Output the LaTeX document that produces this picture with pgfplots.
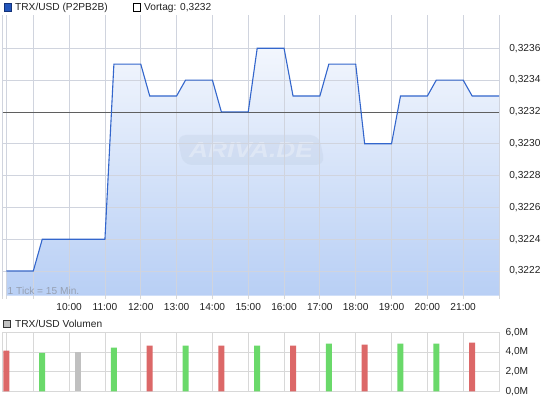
\documentclass[border=0pt]{standalone}
\usepackage{pgfplots}
\pgfplotsset{compat=1.18}
\usepackage{fontspec}
\setmainfont{Liberation Sans}
\definecolor{gridc}{RGB}{216,216,216}
\definecolor{linec}{RGB}{51,102,204}
\definecolor{filltop}{RGB}{242,246,253}
\definecolor{fillbot}{RGB}{184,207,245}
\definecolor{volred}{RGB}{220,104,104}
\definecolor{volgreen}{RGB}{106,217,106}
\definecolor{volgray}{RGB}{192,192,192}
\definecolor{txt}{RGB}{34,34,34}
\definecolor{vortag}{RGB}{95,95,95}
\newcommand{\fs}{\fontsize{10.2}{12}\selectfont}
\pgfplotsset{mainbox/.style={
  at={(2.7bp,105.3bp)}, anchor=south west, scale only axis,
  width=496.3bp, height=280.7bp,
  xmin=8.146, xmax=22, ymin=0.322045, ymax=0.323809}}
\begin{document}
\begin{tikzpicture}
\fill[white] (0bp,0bp) rectangle (545bp,401bp);
% area fill (behind grid)
\begin{axis}[mainbox, hide axis]
\addplot[draw=none, top color=filltop, bottom color=fillbot] coordinates {
(8.25,0.322045) (8.25,0.3222) (9,0.3222) (9.25,0.3224) (11,0.3224) (11.25,0.3235) (12,0.3235)
(12.25,0.3233) (13,0.3233) (13.25,0.3234) (14,0.3234) (14.25,0.3232) (15,0.3232)
(15.25,0.3236) (16,0.3236) (16.25,0.3233) (17,0.3233) (17.25,0.3235) (18,0.3235)
(18.25,0.3230) (19,0.3230) (19.25,0.3233) (20,0.3233) (20.25,0.3234) (21,0.3234)
(21.25,0.3233) (22,0.3233) (22,0.322045)};
\end{axis}
% watermark
\fill[rounded corners=9bp, fill={rgb,255:red,170;green,185;blue,210}, opacity=0.18]
  (183bp,236bp) -- (325bp,236bp) -- (319bp,266bp) -- (177bp,266bp) -- cycle;
\node[anchor=center, font=\fontsize{22}{24}\selectfont\bfseries\itshape, text=white, opacity=0.3, xscale=1.2] at (251bp,251bp) {ARIVA.DE};
% grid, ticks, lines
\begin{axis}[
  mainbox, name=main,
  axis line style={draw=none},
  xtick={8.146,8.25,9,10,11,12,13,14,15,16,17,18,19,20,21,22},
  xticklabels={,,,10:00,11:00,12:00,13:00,14:00,15:00,16:00,17:00,18:00,19:00,20:00,21:00,},
  ytick={0.3222,0.3224,0.3226,0.3228,0.3230,0.3232,0.3234,0.3236},
  yticklabels={{0,3222},{0,3224},{0,3226},{0,3228},{0,3230},{0,3232},{0,3234},{0,3236}},
  yticklabel pos=right,
  xtick pos=bottom,
  tick align=outside,
  xtick style={draw=gridc, line width=0.8bp},
  x tick label style={font=\fs, text=txt, yshift=-0.5bp},
  y tick label style={font=\fs, text=txt, xshift=3.5bp},
  ytick style={draw=none},
  major tick length=3.3bp,
  grid=major,
  major grid style={draw={rgb,255:red,208;green,212;blue,222}, line width=0.8bp},
]
\addplot[color=vortag, line width=0.8bp, mark=none] coordinates {(8.146,0.3232) (22,0.3232)};
\addplot[color=linec, line width=1.1bp, mark=none] coordinates {
(8.25,0.3222) (9,0.3222) (9.25,0.3224) (11,0.3224) (11.25,0.3235) (12,0.3235)
(12.25,0.3233) (13,0.3233) (13.25,0.3234) (14,0.3234) (14.25,0.3232) (15,0.3232)
(15.25,0.3236) (16,0.3236) (16.25,0.3233) (17,0.3233) (17.25,0.3235) (18,0.3235)
(18.25,0.3230) (19,0.3230) (19.25,0.3233) (20,0.3233) (20.25,0.3234) (21,0.3234)
(21.25,0.3233) (22,0.3233)};
\end{axis}
\node[anchor=west, font=\fs, text={rgb,255:red,150;green,160;blue,178}, inner sep=0pt] at (7.5bp,110bp) {1 Tick = 15 Min.};
% volume
\begin{axis}[
  name=vol, at={(2.7bp,9.7bp)}, anchor=south west, scale only axis,
  width=496.3bp, height=59bp,
  xmin=8.146, xmax=22, ymin=0, ymax=6,
  axis line style={draw=gridc, line width=0.8bp},
  xtick={8.25,9,10,11,12,13,14,15,16,17,18,19,20,21,22},
  xticklabels={},
  xtick style={draw=none},
  ytick={0,2,4,6},
  yticklabels={{0,0M},{2,0M},{4,0M},{6,0M}},
  yticklabel pos=right,
  ytick style={draw=none},
  y tick label style={font=\fs, text=txt, xshift=3bp},
  grid=major,
  major grid style={draw=gridc, line width=0.8bp},
  ybar, bar width=6bp, bar shift=0pt,
]
\addplot[fill=volred, draw=none] coordinates {(8.25,4.14) (12.25,4.64) (14.25,4.64) (16.25,4.64) (18.25,4.75) (21.25,4.95)};
\addplot[fill=volgreen, draw=none] coordinates {(9.25,3.90) (11.25,4.44) (13.25,4.64) (15.25,4.64) (17.25,4.85) (19.25,4.85) (20.25,4.85)};
\addplot[fill=volgray, draw=none] coordinates {(10.25,4.03)};
\end{axis}
% titles
\draw[fill={rgb,255:red,34;green,85;blue,187}, draw={rgb,255:red,20;green,50;blue,120}, line width=0.6bp] (4bp,390bp) rectangle (11bp,397.5bp);
\node[anchor=west, font=\fs, text=txt, inner sep=0pt] at (15bp,393bp) {TRX/USD (P2PB2B)};
\draw[fill=white, draw=black, line width=0.6bp] (133bp,390bp) rectangle (140bp,397.5bp);
\node[anchor=west, font=\fs, text=txt, inner sep=0pt] at (144bp,393bp) {Vortag: 0,3232};
\draw[fill=volgray, draw=black!80, line width=0.6bp] (3.5bp,74bp) rectangle (10bp,81bp);
\node[anchor=west, font=\fs, text=txt, inner sep=0pt] at (15bp,77.5bp) {TRX/USD Volumen};
\pgfresetboundingbox
\path[use as bounding box] (0bp,0bp) rectangle (545bp,401bp);
\end{tikzpicture}
\end{document}
